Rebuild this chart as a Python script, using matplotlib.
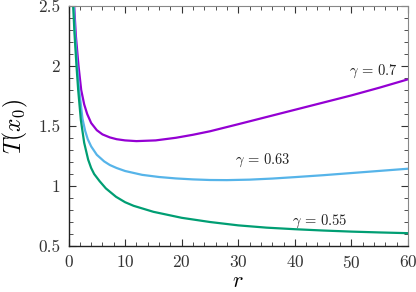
import matplotlib
matplotlib.use("Agg")
import matplotlib.pyplot as plt
from matplotlib.ticker import MultipleLocator

plt.rcParams['font.family'] = 'cmr10'
plt.rcParams['mathtext.fontset'] = 'cm'
plt.rcParams['axes.formatter.use_mathtext'] = True

# gamma = 0.7
r_a = [1.0, 1.3, 1.77, 2.24, 2.77, 3.3, 4.0, 5.0, 6.0, 7.3, 8.5, 10, 12, 15.4, 19, 22, 25, 30, 35, 40, 45, 50, 55, 60]
t_a = [2.5, 2.25, 2.0, 1.8, 1.68, 1.6, 1.525, 1.465, 1.43, 1.405, 1.39, 1.38, 1.374, 1.38, 1.402, 1.427, 1.456, 1.515, 1.575, 1.635, 1.695, 1.755, 1.82, 1.889]
# gamma = 0.63
r_b = [0.94, 1.15, 1.53, 1.88, 2.47, 2.94, 3.4, 4.0, 5.0, 6.3, 7.3, 8.5, 10, 13, 16, 19, 22, 25, 28, 32, 36, 40, 45, 50, 55, 60]
t_b = [2.5, 2.27, 2.0, 1.8, 1.56, 1.46, 1.39, 1.33, 1.26, 1.205, 1.175, 1.15, 1.125, 1.093, 1.075, 1.063, 1.055, 1.05, 1.049, 1.053, 1.062, 1.074, 1.09, 1.108, 1.126, 1.144]
# gamma = 0.55
r_c = [0.82, 1.06, 1.41, 1.71, 2.18, 2.77, 3.47, 4.0, 4.53, 5.5, 6.6, 8.4, 10, 11.5, 15, 20, 25, 30, 35, 40, 45, 50, 55, 60]
t_c = [2.5, 2.27, 2.0, 1.8, 1.55, 1.36, 1.22, 1.15, 1.1, 1.04, 0.98, 0.91, 0.865, 0.835, 0.785, 0.735, 0.70, 0.672, 0.653, 0.64, 0.629, 0.62, 0.613, 0.607]

labels = [r'$\gamma\,=\,0.7$', r'$\gamma\,=\,0.63$', r'$\gamma\,=\,0.55$']
label_pos = [(53.8, 1.956), (34.4, 1.214), (44.4, 0.703)]
colors = ['#9400D3', '#56B4E9', '#009E73']

fig = plt.figure(figsize=(4.16, 2.92), dpi=100)
ax = fig.add_axes([0.1647, 0.1575, 0.8161, 0.822])

for r, t, c in zip([r_a, r_b, r_c], [t_a, t_b, t_c], colors):
    ax.plot(r, t, color=c, lw=1.6, solid_capstyle='butt', solid_joinstyle='round')

for lab, (x, y) in zip(labels, label_pos):
    ax.text(x, y, lab, ha='center', va='center', fontsize=10.5, color='#222222')

ax.set_xlim(0, 60)
ax.set_ylim(0.5, 2.5)
ax.xaxis.set_major_locator(MultipleLocator(10))
ax.xaxis.set_minor_locator(MultipleLocator(2))
ax.yaxis.set_minor_locator(MultipleLocator(0.1))
ax.set_yticks([0.5, 1, 1.5, 2, 2.5])
ax.set_yticklabels(['0.5', '1', '1.5', '2', '2.5'])

ax.tick_params(which='both', direction='in', top=True, right=True, labelsize=12.5, colors='#333333')
ax.tick_params(which='major', length=5, width=0.8, pad=6)
ax.tick_params(which='minor', length=3, width=0.6)
for sp in ['top', 'right']:
    ax.spines[sp].set_color('#888888')
for sp in ['left', 'bottom']:
    ax.spines[sp].set_color('#222222')
    ax.spines[sp].set_linewidth(1.0)

ax.set_xlabel(r'$r$', fontsize=16, labelpad=0)
ax.set_ylabel(r'$T(x_0)$', fontsize=17, labelpad=6)

fig.savefig('out.png', dpi=100)
